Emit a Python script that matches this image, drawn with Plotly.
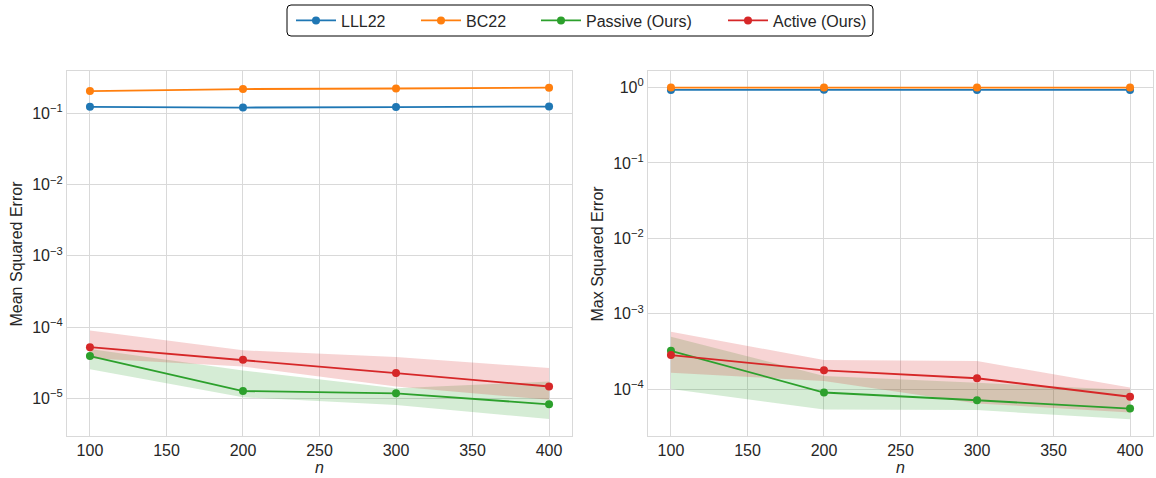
import plotly.graph_objects as go

# ---------------- data ----------------
n = [100, 200, 300, 400]
x_ticks = [100, 150, 200, 250, 300, 350, 400]

# Left panel: Mean Squared Error
mse_lll22 = [0.124, 0.121, 0.123, 0.125]
mse_bc22 = [0.206, 0.220, 0.224, 0.230]
mse_passive = [3.9e-5, 1.26e-5, 1.17e-5, 8.2e-6]
mse_passive_lo = [2.56e-5, 1.03e-5, 8.05e-6, 5.1e-6]
mse_passive_hi = [4.9e-5, 2.45e-5, 1.38e-5, 1.71e-5]
mse_active = [5.2e-5, 3.46e-5, 2.25e-5, 1.46e-5]
mse_active_lo = [3.65e-5, 2.79e-5, 1.46e-5, 9.5e-6]
mse_active_hi = [8.96e-5, 4.7e-5, 3.8e-5, 2.65e-5]

# Right panel: Max Squared Error
max_lll22 = [0.93, 0.935, 0.93, 0.93]
max_bc22 = [1.0, 1.0, 1.0, 1.0]
max_passive = [3.22e-4, 9.0e-5, 7.1e-5, 5.5e-5]
max_passive_lo = [1.0e-4, 5.37e-5, 5.26e-5, 3.96e-5]
max_passive_hi = [4.94e-4, 1.49e-4, 1.21e-4, 9.7e-5]
max_active = [2.82e-4, 1.77e-4, 1.39e-4, 7.9e-5]
max_active_lo = [1.64e-4, 1.28e-4, 6.45e-5, 4.9e-5]
max_active_hi = [5.75e-4, 2.43e-4, 2.35e-4, 1.05e-4]

left_exps = [-5, -4, -3, -2, -1]
right_exps = [-4, -3, -2, -1, 0]

names = ["LLL22", "BC22", "Passive (Ours)", "Active (Ours)"]
colors = ["#1f77b4", "#ff7f0e", "#2ca02c", "#d62728"]
fills = ["rgba(31,119,180,0.2)", "rgba(255,127,14,0.2)",
         "rgba(44,160,44,0.2)", "rgba(214,39,40,0.2)"]
legend_ids = ["legend", "legend2", "legend3", "legend4"]
legend_text_px = [341, 466, 586, 773]   # left edge of each legend label (px)

# ---------------- figure ----------------
W, H = 1156, 478
FONT = "Liberation Sans, Arial, sans-serif"
TXT = "#262626"
GRID = "#d9d9d9"

fig = go.Figure()


def add_panel(xa, ya, means, bands, showlegend):
    for i, band in enumerate(bands):
        if band is None:
            continue
        lo, hi = band
        fig.add_trace(go.Scatter(x=n, y=lo, xaxis=xa, yaxis=ya, mode="lines",
                                 line=dict(width=0, color=colors[i]),
                                 showlegend=False, hoverinfo="skip"))
        fig.add_trace(go.Scatter(x=n, y=hi, xaxis=xa, yaxis=ya, mode="lines",
                                 line=dict(width=0, color=colors[i]),
                                 fill="tonexty", fillcolor=fills[i],
                                 showlegend=False, hoverinfo="skip"))
    for i, m in enumerate(means):
        fig.add_trace(go.Scatter(x=n, y=m, xaxis=xa, yaxis=ya, mode="lines+markers",
                                 name=names[i], legendgroup=names[i],
                                 legend=legend_ids[i],
                                 showlegend=showlegend,
                                 line=dict(color=colors[i], width=1.8),
                                 marker=dict(color=colors[i], size=8)))


add_panel("x", "y",
          [mse_lll22, mse_bc22, mse_passive, mse_active],
          [None, None, (mse_passive_lo, mse_passive_hi), (mse_active_lo, mse_active_hi)],
          True)
add_panel("x2", "y2",
          [max_lll22, max_bc22, max_passive, max_active],
          [None, None, (max_passive_lo, max_passive_hi), (max_active_lo, max_active_hi)],
          False)

yt = 71
yb = 436
ydom = [1 - yb / H, 1 - yt / H]


def xaxis(dom, anchor):
    return dict(domain=dom, range=[85, 415], anchor=anchor, tickmode="array", tickvals=x_ticks,
                showgrid=True, gridcolor=GRID, gridwidth=1, zeroline=False,
                showline=True, mirror=True, linecolor=GRID, linewidth=1.2,
                ticks="", tickfont=dict(size=16, color=TXT, family=FONT),
                automargin=False)


def yaxis(rng, exps, anchor):
    return dict(domain=ydom, type="log", range=rng, anchor=anchor,
                tickmode="array", tickvals=[10.0 ** e for e in exps],
                ticktext=["10<sup>%s</sup>" % (("\u2212%d" % -e) if e < 0 else "%d" % e)
                          for e in exps],
                showgrid=True, gridcolor=GRID, gridwidth=1, zeroline=False,
                showline=True, mirror=True, linecolor=GRID, linewidth=1.2,
                ticks="", tickfont=dict(size=16, color=TXT, family=FONT),
                automargin=False)


layout_legends = {}
for lid, tx in zip(legend_ids, legend_text_px):
    layout_legends[lid] = dict(orientation="h", x=(tx - 50) / W, xanchor="left",
                               y=1 - 20.5 / H, yanchor="middle",
                               borderwidth=0, bgcolor="rgba(0,0,0,0)",
                               font=dict(size=16, color=TXT, family=FONT), itemwidth=40)

fig.update_layout(
    width=W, height=H,
    margin=dict(l=0, r=0, t=0, b=0),
    paper_bgcolor="white", plot_bgcolor="white",
    font=dict(family=FONT, size=16, color=TXT),
    xaxis=xaxis([67 / W, 572 / W], "y"),
    xaxis2=xaxis([648 / W, 1153 / W], "y2"),
    yaxis=yaxis([-5.531, -0.404], left_exps, "x"),
    yaxis2=yaxis([-4.623, 0.22], right_exps, "x2"),
    showlegend=True,
    **layout_legends,
)

# legend frame (rounded rectangle like matplotlib's fancybox)
x0, x1, y0, y1, r = 287, 873, 5, 36, 4


def px(x):
    return x / W


def py(y):
    return 1 - y / H


path = (f"M{px(x0 + r)},{py(y0)} L{px(x1 - r)},{py(y0)} Q{px(x1)},{py(y0)} {px(x1)},{py(y0 + r)} "
        f"L{px(x1)},{py(y1 - r)} Q{px(x1)},{py(y1)} {px(x1 - r)},{py(y1)} "
        f"L{px(x0 + r)},{py(y1)} Q{px(x0)},{py(y1)} {px(x0)},{py(y1 - r)} "
        f"L{px(x0)},{py(y0 + r)} Q{px(x0)},{py(y0)} {px(x0 + r)},{py(y0)} Z")
fig.add_shape(type="path", path=path, xref="paper", yref="paper",
              line=dict(color="black", width=1), layer="below")

annots = [
    dict(text="Mean Squared Error", x=16 / W, y=1 - 253.5 / H, textangle=-90),
    dict(text="Max Squared Error", x=597 / W, y=1 - 253.5 / H, textangle=-90),
    dict(text="<i>n</i>", x=319.5 / W, y=1 - 467 / H, textangle=0),
    dict(text="<i>n</i>", x=900 / W, y=1 - 467 / H, textangle=0),
]
for a in annots:
    fig.add_annotation(xref="paper", yref="paper", showarrow=False,
                       xanchor="center", yanchor="middle",
                       font=dict(size=16, color=TXT, family=FONT), **a)

fig.write_html("out.html")
